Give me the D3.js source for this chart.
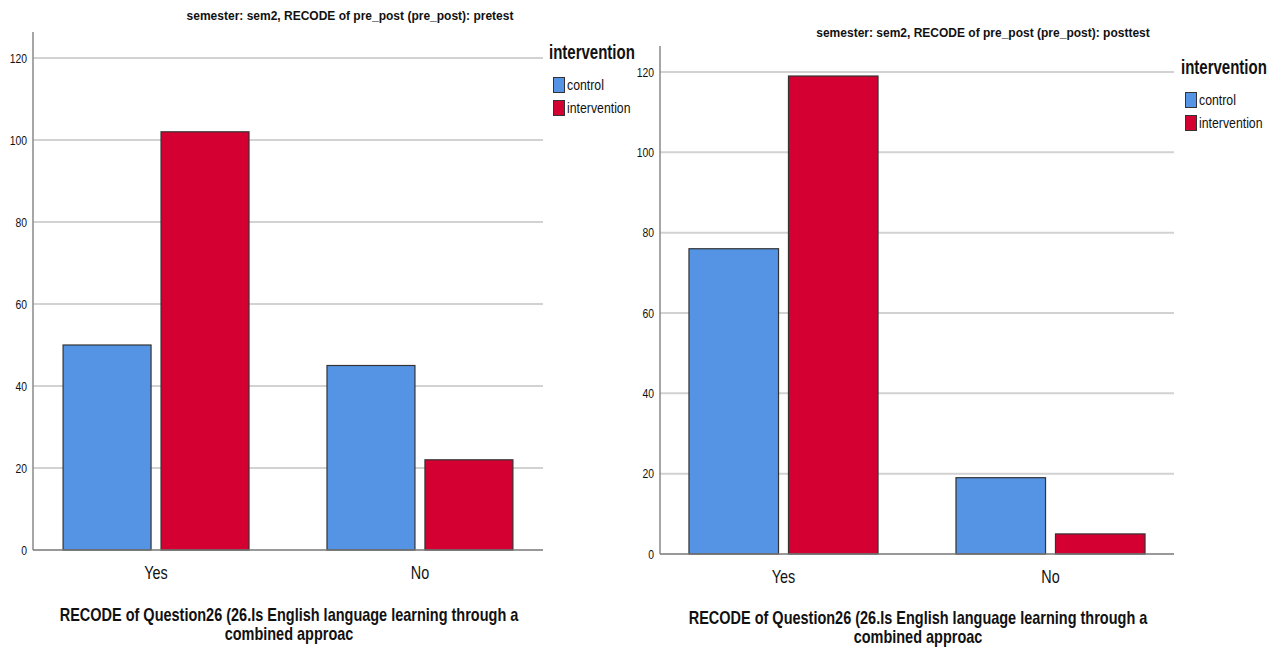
<!DOCTYPE html>
<html>
<head>
<meta charset="utf-8">
<script src="https://cdn.jsdelivr.net/npm/d3@7"></script>
<style>
  html, body { margin: 0; padding: 0; background: #fff; }
  svg { display: block; }
  text { font-family: "Liberation Sans", Arial, sans-serif; fill: #111; }
</style>
</head>
<body>
<script>
// Answer categories and group labels
const categories = ["Yes", "No"];
const groups = ["control", "intervention"];
const groupColors = ["#5594E4", "#D50032"];
const yTicks = [0, 20, 40, 60, 80, 100, 120];

// Counts per panel: [control, intervention] for each answer
const pretestControl = [50, 45];
const pretestIntervention = [102, 22];
const posttestControl = [76, 19];
const posttestIntervention = [119, 5];

const panelTitles = [
  "semester: sem2, RECODE of pre_post (pre_post): pretest",
  "semester: sem2, RECODE of pre_post (pre_post): posttest"
];
const xTitleLines = [
  "RECODE of Question26 (26.Is English language learning through a",
  "combined approac"
];
const legendTitle = "intervention";

const W = 1275, H = 648;
const svg = d3.select("body").append("svg").attr("width", W).attr("height", H);

// Condensed text: Liberation Sans squeezed horizontally
function narrow(g, x, y, txt, o) {
  return g.append("text")
    .attr("transform", `translate(${x},${y}) scale(${o.sx},1)`)
    .attr("text-anchor", o.anchor || "start")
    .style("font-size", o.size + "px")
    .style("font-weight", o.bold ? "bold" : "normal")
    .attr("fill", o.fill || "#111")
    .text(txt);
}

// Pixel frame of each panel
const panels = [
  { title: panelTitles[0], control: pretestControl, intervention: pretestIntervention,
    x0: 33, x1: 543, yTop: 32, y0: 550, y120: 58, pi: 0.2955, po: 0.114, barGap: 0.102,
    titleX: 350, titleY: 20, legX: 549, legY: 59, xLabY: 579, xTitleY: 621, xTitleCx: 289 },
  { title: panelTitles[1], control: posttestControl, intervention: posttestIntervention,
    x0: 660, x1: 1174, yTop: 46, y0: 554, y120: 72, pi: 0.292, po: 0.1085, barGap: 0.1,
    titleX: 983, titleY: 37, legX: 1181, legY: 74, xLabY: 583, xTitleY: 624, xTitleCx: 918 }
];

panels.forEach(p => {
  const g = svg.append("g");
  const y = d3.scaleLinear().domain([0, 120]).range([p.y0, p.y120]);
  const x = d3.scaleBand().domain(categories).range([p.x0, p.x1])
    .paddingInner(p.pi).paddingOuter(p.po);
  const xs = d3.scaleBand().domain(groups).range([0, x.bandwidth()]).paddingInner(p.barGap);

  // Gridlines
  g.append("g").selectAll("line").data(yTicks.filter(d => d > 0)).join("line")
    .attr("x1", p.x0).attr("x2", p.x1)
    .attr("y1", d => y(d)).attr("y2", d => y(d))
    .attr("stroke", "#d2d2d2").attr("stroke-width", 2);

  // Bars
  const rows = categories.map((c, i) => ({ c, vals: [p.control[i], p.intervention[i]] }));
  g.append("g").selectAll("g").data(rows).join("g")
    .attr("transform", d => `translate(${x(d.c)},0)`)
    .selectAll("rect").data(d => d.vals.map((v, j) => ({ v, k: groups[j], j })))
    .join("rect")
    .attr("x", d => xs(d.k))
    .attr("y", d => y(d.v))
    .attr("width", xs.bandwidth())
    .attr("height", d => y(0) - y(d.v))
    .attr("fill", d => groupColors[d.j])
    .attr("stroke", "#333")
    .attr("stroke-width", 1.2);

  // Y axis line and tick labels
  g.append("line").attr("x1", p.x0).attr("x2", p.x0).attr("y1", p.yTop).attr("y2", p.y0)
    .attr("stroke", "#888").attr("stroke-width", 1.5);
  yTicks.forEach(t => {
    narrow(g, p.x0 - 6, y(t) + 4.5, String(t), { sx: 0.8, size: 13, anchor: "end", fill: "#222" });
  });

  // X axis line and category labels
  g.append("line").attr("x1", p.x0).attr("x2", p.x1).attr("y1", p.y0).attr("y2", p.y0)
    .attr("stroke", "#777").attr("stroke-width", 1.5);
  categories.forEach(c => {
    narrow(g, x(c) + x.bandwidth() / 2, p.xLabY, c, { sx: 0.8, size: 18, anchor: "middle", fill: "#333" });
  });

  // Panel title
  narrow(g, p.titleX, p.titleY, p.title, { sx: 0.89, size: 13.5, bold: true, anchor: "middle" });

  // X axis title (two lines)
  narrow(g, p.xTitleCx, p.xTitleY, xTitleLines[0], { sx: 0.805, size: 18, bold: true, anchor: "middle" });
  narrow(g, p.xTitleCx, p.xTitleY + 19, xTitleLines[1], { sx: 0.805, size: 18, bold: true, anchor: "middle" });

  // Legend
  const lg = g.append("g").attr("transform", `translate(${p.legX},${p.legY})`);
  narrow(lg, 0, 0, legendTitle, { sx: 0.77, size: 19.5, bold: true });
  groups.forEach((k, i) => {
    lg.append("rect").attr("x", 4.5).attr("y", 18.5 + i * 23).attr("width", 11).attr("height", 15)
      .attr("fill", groupColors[i]).attr("stroke", "#333").attr("stroke-width", 1);
    narrow(lg, 18, 31 + i * 23, k, { sx: 0.82, size: 15, fill: "#222" });
  });
});
</script>
</body>
</html>
